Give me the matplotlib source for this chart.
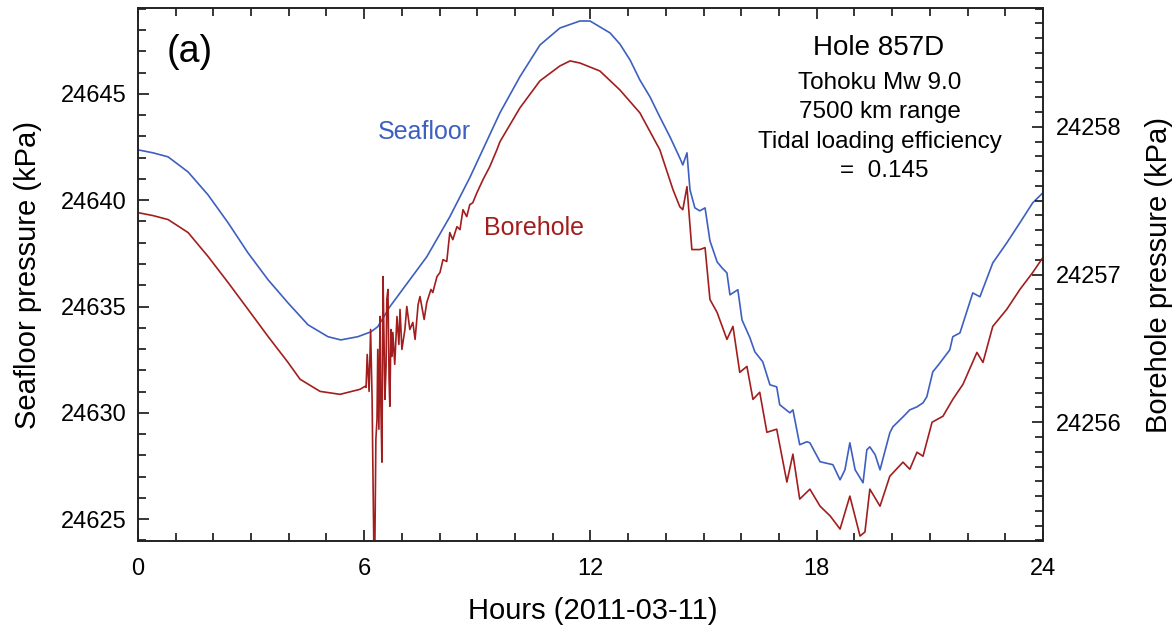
import numpy as np
import matplotlib
matplotlib.use("Agg")
import matplotlib.pyplot as plt
from matplotlib.ticker import MultipleLocator

plt.rcParams['font.family'] = ['Liberation Sans', 'DejaVu Sans']

# seafloor pressure (kPa), left axis
sea_hours = [0.00, 0.40, 0.80, 1.33, 1.86, 2.39, 2.92, 3.45, 3.98, 4.51, 5.04, 5.38, 5.83, 6.18, 6.36,
             6.68, 7.21, 7.66, 8.27, 8.80, 9.07, 9.60, 10.13, 10.66, 11.19, 11.72, 11.99, 12.52, 12.78,
             13.05, 13.31, 13.58, 13.84, 14.11, 14.37, 14.45, 14.56, 14.64, 14.77, 14.90, 15.04, 15.17,
             15.36, 15.49, 15.62, 15.70, 15.91, 16.02, 16.23, 16.36, 16.57, 16.76, 16.94, 17.02, 17.29,
             17.37, 17.55, 17.74, 17.82, 18.09, 18.43, 18.62, 18.75, 18.88, 19.02, 19.23, 19.33, 19.41,
             19.55, 19.68, 19.94, 20.02, 20.29, 20.47, 20.66, 20.82, 20.92, 21.08, 21.19, 21.27, 21.53,
             21.61, 21.80, 22.14, 22.33, 22.67, 23.04, 23.39, 23.73, 24.00]
seafloor = [24642.37, 24642.23, 24642.04, 24641.33, 24640.25, 24638.94, 24637.52, 24636.26, 24635.17,
            24634.14, 24633.58, 24633.43, 24633.58, 24633.81, 24634.05, 24634.99, 24636.26, 24637.34,
            24639.22, 24641.06, 24642.09, 24644.11, 24645.81, 24647.30, 24648.10, 24648.43, 24648.43,
            24647.87, 24647.35, 24646.60, 24645.66, 24644.86, 24643.92, 24642.98, 24641.99, 24641.66,
            24642.23, 24640.49, 24639.64, 24639.50, 24639.64, 24638.09, 24637.10, 24636.82, 24636.58,
            24635.55, 24635.79, 24634.37, 24633.53, 24632.87, 24632.40, 24631.32, 24631.22, 24630.38,
            24630.00, 24630.14, 24628.50, 24628.64, 24628.59, 24627.70, 24627.56, 24626.85, 24627.32,
            24628.59, 24627.32, 24626.71, 24628.26, 24628.40, 24628.03, 24627.32, 24629.06, 24629.34,
            24629.81, 24630.14, 24630.28, 24630.47, 24630.75, 24631.93, 24632.17, 24632.35, 24632.96,
            24633.58, 24633.76, 24635.64, 24635.46, 24637.05, 24637.99, 24638.94, 24639.88, 24640.35]

# borehole pressure (kPa), right axis
bore_hours = [0.00, 0.40, 0.80, 1.33, 1.86, 2.39, 2.92, 3.45, 3.98, 4.30, 4.83, 5.36, 5.89, 6.02,
              6.05, 6.08, 6.13, 6.17, 6.21, 6.23, 6.26, 6.28, 6.31, 6.34, 6.36, 6.39, 6.42, 6.44, 6.47,
              6.50, 6.53, 6.55, 6.58, 6.60, 6.63, 6.66, 6.68, 6.71, 6.74, 6.76, 6.81, 6.87, 6.92, 6.95,
              7.00, 7.08, 7.13, 7.21, 7.29, 7.35, 7.43, 7.48, 7.59, 7.66, 7.77, 7.82, 7.93, 8.01, 8.09,
              8.19, 8.27, 8.35, 8.46, 8.54, 8.62, 8.72, 8.80, 8.88, 8.99, 9.15, 9.33, 9.52, 9.60, 10.13,
              10.66, 11.19, 11.46, 11.72, 12.25, 12.78, 13.31, 13.84, 14.19, 14.37, 14.45, 14.56, 14.69,
              14.90, 15.04, 15.17, 15.36, 15.62, 15.78, 15.96, 16.15, 16.31, 16.49, 16.68, 16.94, 17.21,
              17.37, 17.55, 17.82, 18.09, 18.36, 18.62, 18.88, 19.15, 19.28, 19.41, 19.68, 19.94, 20.29,
              20.47, 20.66, 20.82, 21.06, 21.35, 21.61, 21.88, 22.25, 22.41, 22.67, 23.04, 23.39, 23.73,
              24.00]
borehole = [24257.419, 24257.399, 24257.372, 24257.284, 24257.122, 24256.946, 24256.764, 24256.581,
            24256.405, 24256.291, 24256.209, 24256.189, 24256.223, 24256.243,
            24256.236, 24256.459, 24256.209, 24256.628, 24256.155, 24255.703, 24255.074, 24255.074,
            24255.885, 24256.020, 24256.493, 24255.953, 24256.716, 24256.155, 24255.730, 24256.986,
            24256.493, 24256.155, 24256.378, 24256.831, 24256.899, 24256.291, 24256.108, 24256.628,
            24256.446, 24256.608, 24256.392, 24256.716, 24256.527, 24256.764, 24256.493, 24256.628,
            24256.784, 24256.628, 24256.676, 24256.561, 24256.797, 24256.851, 24256.696, 24256.811,
            24256.899, 24256.878, 24256.986, 24257.014, 24257.101, 24257.088, 24257.284, 24257.236,
            24257.324, 24257.304, 24257.439, 24257.392, 24257.473, 24257.486, 24257.554, 24257.642,
            24257.730, 24257.845, 24257.899, 24258.128, 24258.311, 24258.412, 24258.446, 24258.432,
            24258.378, 24258.250, 24258.095, 24257.845, 24257.574, 24257.459, 24257.439, 24257.595,
            24257.169, 24257.169, 24257.182, 24256.831, 24256.743, 24256.561, 24256.649, 24256.338,
            24256.378, 24256.155, 24256.203, 24255.932, 24255.953, 24255.595, 24255.784, 24255.480,
            24255.547, 24255.432, 24255.365, 24255.277, 24255.500, 24255.230, 24255.257, 24255.547,
            24255.432, 24255.635, 24255.730, 24255.682, 24255.797, 24255.770, 24256.000, 24256.041,
            24256.155, 24256.257, 24256.473, 24256.405, 24256.649, 24256.764, 24256.899, 24257.014,
            24257.115]

x_ticks = [0, 6, 12, 18, 24]
left_ticks = [24625, 24630, 24635, 24640, 24645]
right_ticks = [24256, 24257, 24258]

blue = '#3d5fc0'
red = '#a21e1e'

fig = plt.figure(figsize=(11.73, 6.33), dpi=100)
ax = fig.add_axes([0.1176, 0.1453, 0.7715, 0.8420])
ax2 = ax.twinx()

ax.plot(sea_hours, seafloor, color=blue, lw=1.2)
ax2.plot(bore_hours, borehole, color=red, lw=1.2)

ax.set_xlim(0, 24)
ax.set_ylim(24623.97, 24649.04)
ax2.set_ylim(24255.196, 24258.804)

ax.set_xticks(x_ticks)
ax.set_yticks(left_ticks)
ax2.set_yticks(right_ticks)
ax.xaxis.set_minor_locator(MultipleLocator(1))
ax.yaxis.set_minor_locator(MultipleLocator(1))
ax2.yaxis.set_minor_locator(MultipleLocator(0.1))

ax.tick_params(which='both', direction='in', top=True, right=False, labelsize=17, width=1.1)
ax.tick_params(axis='x', which='both', pad=12)
ax.tick_params(axis='y', which='both', pad=8)
ax.tick_params(which='major', length=8)
ax.tick_params(which='minor', length=5.5)
ax2.tick_params(which='both', direction='in', labelsize=17, width=1.1, pad=9)
ax2.tick_params(which='major', length=8)
ax2.tick_params(which='minor', length=5.5)
ax.ticklabel_format(useOffset=False)
ax2.ticklabel_format(useOffset=False)

for a in (ax, ax2):
    for s in a.spines.values():
        s.set_linewidth(1.2)
        s.set_color('#222222')

ax.set_xlabel('Hours (2011-03-11)', fontsize=21)
ax.set_ylabel('Seafloor pressure (kPa)', fontsize=21)
ax2.set_ylabel('Borehole pressure (kPa)', fontsize=21)
ax.xaxis.set_label_coords(0.503, -0.105)
ax.yaxis.set_label_coords(-0.106, 0.5)
ax2.yaxis.set_label_coords(1.113, 0.5)

ax.text(0.057, 0.917, '(a)', transform=ax.transAxes, fontsize=27, ha='center', va='center')
ax.text(0.818, 0.925, 'Hole 857D', transform=ax.transAxes, fontsize=20, ha='center', va='center')
ax.text(0.82, 0.859, 'Tohoku Mw 9.0', transform=ax.transAxes, fontsize=17.5, ha='center', va='center')
ax.text(0.82, 0.805, '7500 km range', transform=ax.transAxes, fontsize=17.5, ha='center', va='center')
ax.text(0.82, 0.749, 'Tidal loading efficiency', transform=ax.transAxes, fontsize=17.5, ha='center', va='center')
ax.text(0.825, 0.694, '=  0.145', transform=ax.transAxes, fontsize=17.5, ha='center', va='center')

ax.text(0.316, 0.767, 'Seafloor', transform=ax.transAxes, fontsize=18, color=blue, ha='center', va='center')
ax.text(0.438, 0.587, 'Borehole', transform=ax.transAxes, fontsize=18, color=red, ha='center', va='center')

fig.savefig('out.png', dpi=100)
